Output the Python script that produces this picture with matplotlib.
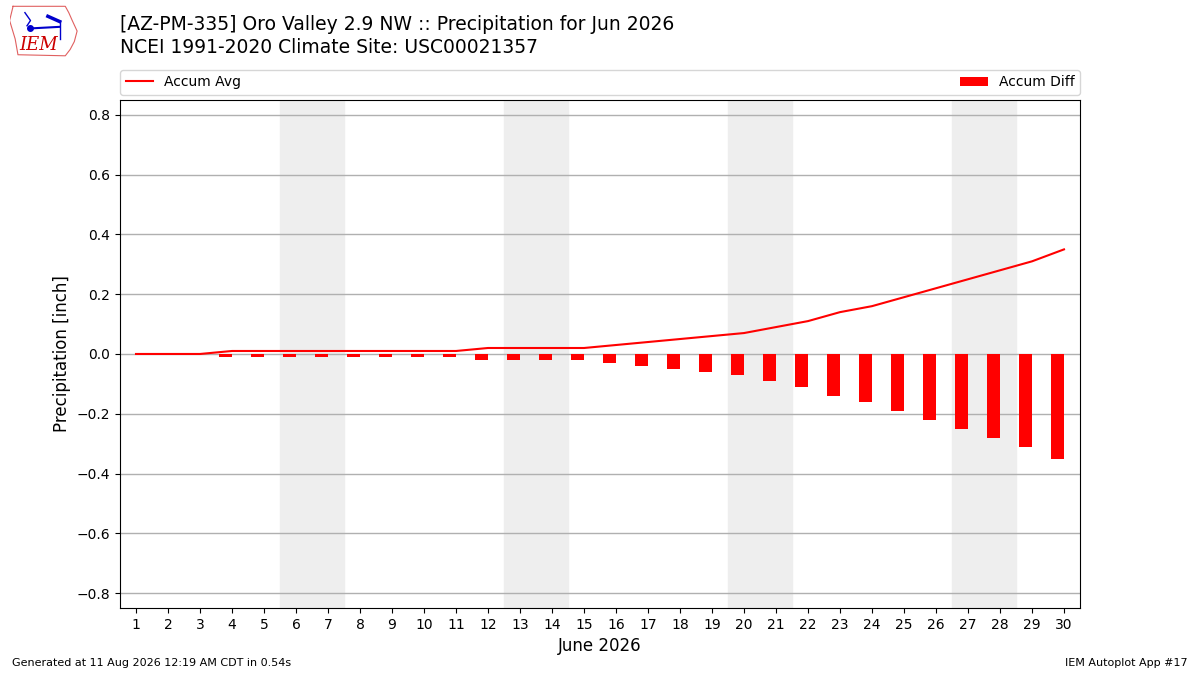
import matplotlib
matplotlib.use("Agg")
import matplotlib.pyplot as plt
import numpy as np

days = list(range(1, 31))
accum_avg = [0.00, 0.00, 0.00, 0.01, 0.01, 0.01, 0.01, 0.01, 0.01, 0.01,
             0.01, 0.02, 0.02, 0.02, 0.02, 0.03, 0.04, 0.05, 0.06, 0.07,
             0.09, 0.11, 0.14, 0.16, 0.19, 0.22, 0.25, 0.28, 0.31, 0.35]
accum_obs = [0.0] * 30
accum_diff = [o - a for o, a in zip(accum_obs, accum_avg)]
weekends = [(6, 7), (13, 14), (20, 21), (27, 28)]

title = ("[AZ-PM-335] Oro Valley 2.9 NW :: Precipitation for Jun 2026\n"
         "NCEI 1991-2020 Climate Site: USC00021357")

fig = plt.figure(figsize=(12, 6.75), dpi=100)
ax = fig.add_axes([0.1, 0.0993, 0.8, 0.7526])

for start, end in weekends:
    ax.axvspan(start - 0.5, end + 0.5, color="#eeeeee", zorder=0)

# bars sit just left of each day tick
ax.bar(days, accum_diff, width=-0.4, align="edge", color="r",
       label="Accum Diff", zorder=3)
ax.plot(days, accum_avg, color="r", lw=1.5, label="Accum Avg", zorder=4)

ax.set_xlim(0.5, 30.5)
ax.set_ylim(-0.85, 0.85)
ax.set_xticks(days)
ax.set_yticks(np.arange(-0.8, 0.81, 0.2))
ax.grid(axis="y", color="#b0b0b0", lw=1, zorder=1)
ax.set_axisbelow(True)
ax.tick_params(labelsize=10)
ax.set_xlabel("June 2026", fontsize=12)
ax.set_ylabel("Precipitation [inch]", fontsize=12)

ax.legend(loc="lower left", bbox_to_anchor=(0, 1.01, 1, 0.05), ncol=2,
          mode="expand", borderaxespad=0, fontsize=10)

fig.text(0.1, 0.978, title, fontsize=13.5, va="top", ha="left", linespacing=1.27)
fig.text(0.01, 0.01, "Generated at 11 Aug 2026 12:19 AM CDT in 0.54s",
         fontsize=8, ha="left", va="bottom")
fig.text(0.99, 0.01, "IEM Autoplot App #17", fontsize=8, ha="right", va="bottom")

# crude stand-in for the IEM logo
logo = fig.add_axes([0.008, 0.915, 0.058, 0.078])
logo.set_xlim(0, 1)
logo.set_ylim(0, 1)
logo.axis("off")
outline_x = [0.05, 0.8, 0.85, 0.9, 0.97, 0.93, 0.87, 0.8, 0.12, 0.08, 0.0, 0.05]
outline_y = [0.97, 0.97, 0.85, 0.7, 0.5, 0.3, 0.15, 0.03, 0.05, 0.35, 0.7, 0.97]
logo.plot(outline_x, outline_y, color="#e06060", lw=0.8)
logo.plot([0.3, 0.72], [0.55, 0.58], color="#0000cc", lw=1.5)
logo.plot([0.3], [0.55], "o", color="#0000cc", ms=4)
logo.plot([0.22, 0.3, 0.25], [0.85, 0.7, 0.6], color="#0000cc", lw=1)
logo.plot([0.55, 0.72], [0.78, 0.68], color="#0000cc", lw=2.5)
logo.plot([0.72, 0.72], [0.35, 0.7], color="#0000cc", lw=1)
logo.text(0.42, 0.06, "IEM", color="#cc0000", fontsize=13, style="italic",
          family="DejaVu Serif", ha="center", va="bottom")

fig.savefig("out.png", dpi=100)
